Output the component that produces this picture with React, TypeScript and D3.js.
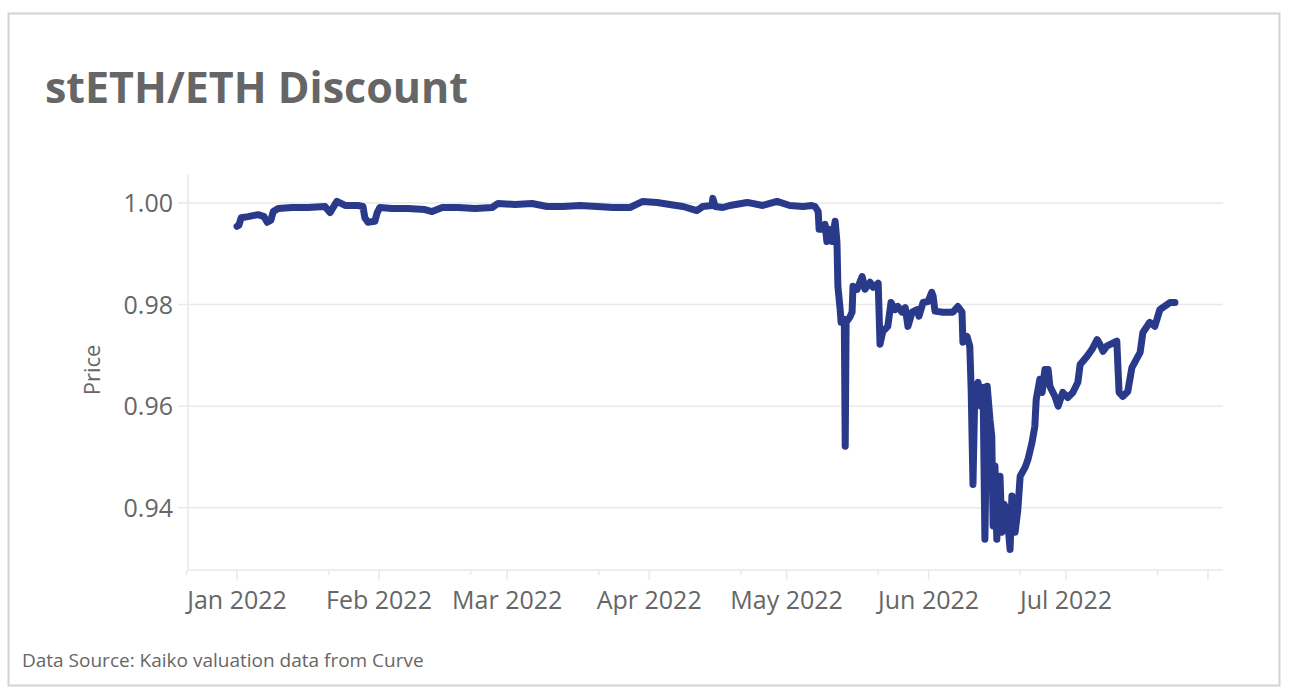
import React from "react";
import * as d3 from "d3";

// Days since 2022-01-01 (UTC) and the stETH/ETH price
const daysSinceJan1: number[] = [
  0, 0.4, 0.9, 2.4, 4.6, 5.9, 6.6, 7.4, 7.9, 9.0, 12.0, 15.5, 19.2, 20.3, 21.8, 23.6, 26.4, 27.5, 27.9, 28.6,
  30.1, 30.6, 31.2, 33.8, 37.3, 41.0, 42.6, 44.8, 48.3, 52.0, 55.7, 57.0, 60.7, 64.4, 67.7, 71.2, 74.9, 78.6, 82.1, 85.8,
  88.6, 91.7, 94.5, 97.4, 100.4, 101.7, 103.7, 103.9, 104.4, 106.1, 107.6, 111.4, 114.8, 117.9, 120.7, 123.6, 125.5, 126.2, 126.9, 127.1,
  128.0, 128.4, 128.8, 129.3, 129.9, 130.6, 131.0, 131.2, 131.7, 131.9, 132.3, 132.6, 132.8, 133.0, 133.8, 134.3, 134.5, 135.4, 136.5, 137.1,
  138.2, 138.9, 140.0, 140.4, 141.0, 142.1, 142.8, 143.7, 144.3, 145.2, 145.9, 146.5, 147.4, 148.5, 148.9, 149.8, 150.9, 151.7, 152.0, 152.4,
  154.1, 156.3, 157.4, 158.3, 158.5, 159.4, 160.0, 160.3, 160.7, 161.1, 161.8, 162.4, 162.9, 163.3, 163.8, 164.4, 164.8, 165.1, 165.5, 165.9,
  166.6, 167.0, 167.5, 168.1, 168.8, 169.2, 169.9, 170.5, 171.0, 172.1, 172.7, 173.6, 174.2, 174.5, 175.3, 175.8, 176.4, 177.1, 177.5, 178.6,
  179.3, 180.3, 181.4, 182.5, 183.6, 184.1, 185.6, 186.7, 187.8, 188.4, 189.1, 189.9, 192.1, 192.6, 193.4, 194.5, 195.4, 197.2, 197.8, 199.3,
  200.4, 201.5, 203.7, 204.8,
];

const prices: number[] = [
  0.9954, 0.9956, 0.9971, 0.9973, 0.9977, 0.9973, 0.9962, 0.9966, 0.9983, 0.9989, 0.9991, 0.9991, 0.9993, 0.9981, 1.0003, 0.9995, 0.9995, 0.9993, 0.9971, 0.9962,
  0.9964, 0.9981, 0.9991, 0.9989, 0.9989, 0.9987, 0.9983, 0.9991, 0.9991, 0.9989, 0.9991, 0.9999, 0.9997, 0.9999, 0.9993, 0.9993, 0.9995, 0.9993, 0.9991, 0.9991,
  1.0003, 1.0001, 0.9997, 0.9993, 0.9985, 0.9993, 0.9995, 1.0009, 0.9993, 0.9991, 0.9995, 1.0001, 0.9995, 1.0003, 0.9995, 0.9993, 0.9995, 0.9993, 0.9983, 0.9948,
  0.9948, 0.9958, 0.9924, 0.9948, 0.9924, 0.9964, 0.9922, 0.9836, 0.979, 0.9765, 0.9771, 0.9771, 0.9521, 0.9765, 0.9775, 0.9785, 0.9836, 0.983, 0.9855, 0.983,
  0.9844, 0.9834, 0.9842, 0.9722, 0.9747, 0.9757, 0.9804, 0.979, 0.9796, 0.9785, 0.9794, 0.9757, 0.9785, 0.979, 0.9777, 0.9804, 0.9806, 0.9824, 0.9816, 0.9787,
  0.9785, 0.9785, 0.9796, 0.9785, 0.9726, 0.9737, 0.9718, 0.9633, 0.9446, 0.9627, 0.9647, 0.96, 0.9637, 0.9338, 0.9639, 0.9574, 0.9541, 0.9364, 0.9482, 0.9338,
  0.9462, 0.9352, 0.9407, 0.9391, 0.9318, 0.9423, 0.9352, 0.9397, 0.9462, 0.948, 0.9495, 0.9529, 0.956, 0.9613, 0.9653, 0.9627, 0.9672, 0.9672, 0.9639, 0.9619,
  0.96, 0.9627, 0.9617, 0.9627, 0.9647, 0.9682, 0.9698, 0.9712, 0.9731, 0.9722, 0.9708, 0.9718, 0.9728, 0.9627, 0.9619, 0.9629, 0.9676, 0.9706, 0.9745, 0.9765,
  0.9757, 0.979, 0.9804, 0.9804,
];

const yTicks: number[] = [0.94, 0.96, 0.98, 1.0];
const monthTicks: string[] = ["2022-01-01", "2022-02-01", "2022-03-01", "2022-04-01", "2022-05-01", "2022-06-01", "2022-07-01", "2022-08-01"];
const monthLabels: string[] = ["Jan 2022", "Feb 2022", "Mar 2022", "Apr 2022", "May 2022", "Jun 2022", "Jul 2022", ""];
const minorTicks: string[] = ["2021-12-21", "2022-01-21", "2022-02-21", "2022-03-21", "2022-04-21", "2022-05-21", "2022-06-21", "2022-07-21"];

const title = "stETH/ETH Discount";
const yTitle = "Price";
const source = "Data Source: Kaiko valuation data from Curve";

const W = 1290;
const H = 696;
const plot = { left: 188, right: 1223, top: 175, bottom: 570 };
const FONT = "'Open Sans', 'DejaVu Sans', sans-serif";
const TEXT = "#666666";
const GRID = "#e9e9e9";
const LINE = "#293a8b";

const jan1 = Date.UTC(2022, 0, 1);

export default function App() {
  const x = d3
    .scaleUtc()
    .domain([new Date(Date.UTC(2021, 11, 21, 7)), new Date(Date.UTC(2022, 7, 4, 7))])
    .range([plot.left, plot.right]);
  const y = d3.scaleLinear().domain([0.92775, 1.0055]).range([plot.bottom, plot.top]);

  const data = daysSinceJan1.map((d, i) => ({ date: new Date(jan1 + d * 864e5), v: prices[i] }));
  const line = d3
    .line<{ date: Date; v: number }>()
    .x((d) => x(d.date))
    .y((d) => y(d.v));

  const fmt = d3.format(".2f");
  const parse = (s: string) => new Date(s + "T00:00:00Z");

  return (
    <svg
      width={W}
      height={H}
      style={{ position: "absolute", left: 0, top: 0, background: "#fff" }}
      fontFamily={FONT}
    >
      <rect x={8.5} y={13.5} width={1271} height={672} fill="#fff" stroke="#d3d3d3" strokeWidth={2} />
      <text x={45} y={103} fontSize={43} fontWeight={700} fill={TEXT}>
        {title}
      </text>

      {/* gridlines + y ticks */}
      {yTicks.map((t) => (
        <g key={t}>
          <line x1={plot.left - 10} x2={plot.right} y1={y(t)} y2={y(t)} stroke={GRID} strokeWidth={1.5} />
          <text x={173} y={y(t)} dy="0.36em" textAnchor="end" fontSize={25} fill={TEXT}>
            {fmt(t)}
          </text>
        </g>
      ))}

      {/* axes lines */}
      <line x1={plot.left} x2={plot.left} y1={plot.top} y2={plot.bottom} stroke={GRID} strokeWidth={1.5} />
      <line x1={plot.left} x2={plot.right} y1={plot.bottom} y2={plot.bottom} stroke={GRID} strokeWidth={1.5} />

      {monthTicks.map((m, i) => (
        <g key={m}>
          <line x1={x(parse(m))} x2={x(parse(m))} y1={plot.bottom} y2={plot.bottom + 10} stroke={GRID} strokeWidth={1.5} />
          {monthLabels[i] && (
            <text x={x(parse(m))} y={609} textAnchor="middle" fontSize={25} fill={TEXT}>
              {monthLabels[i]}
            </text>
          )}
        </g>
      ))}
      {minorTicks.map((m) => (
        <line key={m} x1={x(parse(m))} x2={x(parse(m))} y1={plot.bottom} y2={plot.bottom + 5} stroke={GRID} strokeWidth={1.5} />
      ))}

      <text transform={`translate(100,370) rotate(-90)`} textAnchor="middle" fontSize={22} fill={TEXT}>
        {yTitle}
      </text>

      <path d={line(data) || ""} fill="none" stroke={LINE} strokeWidth={7} strokeLinejoin="round" strokeLinecap="round" />

      <text x={22} y={667} fontSize={19} fill={TEXT}>
        {source}
      </text>
    </svg>
  );
}
